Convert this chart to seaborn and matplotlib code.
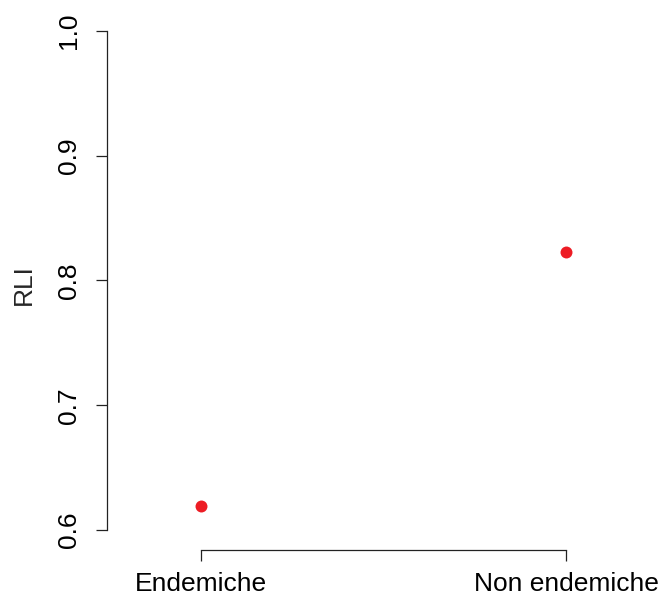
import matplotlib
matplotlib.use('Agg')
import matplotlib.pyplot as plt
import seaborn as sns
import pandas as pd

# Data
groups = ['Endemiche', 'Non endemiche']
rli = [0.6195, 0.823]
y_ticks = [0.6, 0.7, 0.8, 0.9, 1.0]

df = pd.DataFrame({'group': groups, 'RLI': rli})

sns.set_theme(style="ticks")
plt.rcParams['font.family'] = ['Liberation Sans', 'DejaVu Sans']

fig = plt.figure(figsize=(6.62, 5.96), dpi=100)
ax = fig.add_axes([107 / 662, 46 / 596, 533 / 662, 530 / 596])

sns.stripplot(data=df, x='group', y='RLI', jitter=False, color='#ED1C24',
              size=8.6, linewidth=0, ax=ax)

ax.set_xlim(-0.2575, 1.2027)
ax.set_ylim(0.584, 1.0086)
ax.set_yticks(y_ticks)
ax.set_yticklabels([f'{v:.1f}' for v in y_ticks], rotation=90, va='center')
ax.set_xlabel('')
ax.set_ylabel('RLI', fontsize=19, labelpad=15)

for side in ['top', 'right']:
    ax.spines[side].set_visible(False)
ax.spines['left'].set_bounds(0.6, 1.0)
ax.spines['bottom'].set_bounds(0, 1)
for side in ['left', 'bottom']:
    ax.spines[side].set_linewidth(0.9)
    ax.spines[side].set_color('#222222')

ax.tick_params(axis='both', length=8, width=0.9, color='#222222',
               labelsize=19, labelcolor='black')
ax.tick_params(axis='y', pad=11)
ax.tick_params(axis='x', pad=8)

fig.savefig('out.png', dpi=100)
